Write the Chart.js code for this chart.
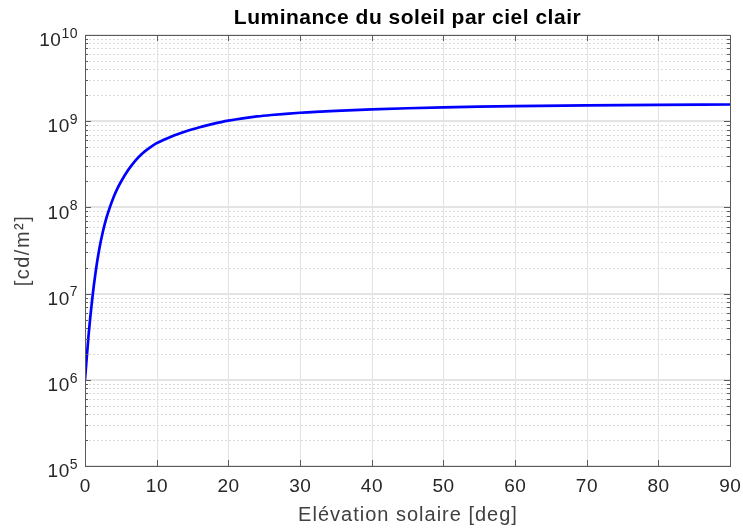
<!DOCTYPE html>
<html><head><meta charset="utf-8">
<script src="https://cdn.jsdelivr.net/npm/chart.js@4"></script>
<style>html,body{margin:0;padding:0;background:#fff;}canvas{display:block;}</style>
</head><body>
<canvas id="c" width="743" height="531"></canvas>
<script>
const elevation = [0, 0.5, 1, 1.5, 2, 2.5, 3, 3.5, 4, 4.5, 5, 6, 7, 8, 9, 10, 11, 12, 13, 14, 15, 16, 17, 18, 19, 20, 22, 24, 26, 28, 30, 35, 40, 45, 50, 55, 60, 70, 80, 90];
const luminance = [1.0e6, 3.31e6, 8.51e6, 1.82e7, 3.31e7, 5.25e7, 7.59e7, 1.02e8, 1.32e8, 1.64e8, 1.97e8, 2.69e8, 3.47e8, 4.22e8, 4.90e8, 5.56e8, 6.10e8, 6.61e8, 7.11e8, 7.59e8, 8.05e8, 8.51e8, 8.95e8, 9.38e8, 9.77e8, 1.014e9, 1.079e9, 1.135e9, 1.180e9, 1.219e9, 1.253e9, 1.318e9, 1.371e9, 1.413e9, 1.449e9, 1.476e9, 1.496e9, 1.528e9, 1.549e9, 1.563e9];
const xTicks = [0, 10, 20, 30, 40, 50, 60, 70, 80, 90];
const yExponents = [5, 6, 7, 8, 9, 10];
const titleText = 'Luminance du soleil par ciel clair';
const xLabel = 'Elévation solaire [deg]';
const yLabel = '[cd/m²]';

const FONT = '"Liberation Sans", Arial, Helvetica, sans-serif';

const deco = {
  id: 'deco',
  beforeDraw(chart) {
    const c = chart.ctx;
    c.save(); c.fillStyle = '#fff'; c.fillRect(0, 0, chart.width, chart.height); c.restore();
  },
  beforeDatasetsDraw(chart) {
    const c = chart.ctx, a = chart.chartArea, xs = chart.scales.x, ys = chart.scales.y;
    c.save();
    c.strokeStyle = '#dadada'; c.lineWidth = 1; c.setLineDash([2, 2]);
    for (let i = 0; i < yExponents.length - 1; i++) {
      for (let m = 2; m <= 9; m++) {
        const y = Math.round(ys.getPixelForValue(m * Math.pow(10, yExponents[i]))) + 0.5;
        c.beginPath(); c.moveTo(a.left, y); c.lineTo(a.right, y); c.stroke();
      }
    }
    c.setLineDash([]);
    c.strokeStyle = '#e2e2e2'; c.lineWidth = 1;
    xTicks.forEach(t => {
      const x = Math.round(xs.getPixelForValue(t)) + 0.5;
      c.beginPath(); c.moveTo(x, a.top); c.lineTo(x, a.bottom); c.stroke();
    });
    c.strokeStyle = '#e4e4e4'; c.lineWidth = 2;
    yExponents.forEach(e => {
      const y = Math.round(ys.getPixelForValue(Math.pow(10, e)));
      c.beginPath(); c.moveTo(a.left, y); c.lineTo(a.right, y); c.stroke();
    });
    c.restore();
  },
  afterDatasetsDraw(chart) {
    const c = chart.ctx, a = chart.chartArea, xs = chart.scales.x, ys = chart.scales.y;
    c.save();
    c.strokeStyle = '#5a5a5a'; c.lineWidth = 1;
    c.strokeRect(Math.round(a.left) + 0.5, Math.round(a.top) + 0.5, Math.round(a.right - a.left), Math.round(a.bottom - a.top));
    xTicks.forEach(t => {
      const x = Math.round(xs.getPixelForValue(t)) + 0.5;
      c.beginPath(); c.moveTo(x, a.bottom); c.lineTo(x, a.bottom - 6); c.stroke();
      c.beginPath(); c.moveTo(x, a.top); c.lineTo(x, a.top + 6); c.stroke();
    });
    for (let i = 0; i < yExponents.length; i++) {
      const yM = Math.round(ys.getPixelForValue(Math.pow(10, yExponents[i]))) + 0.5;
      c.beginPath(); c.moveTo(a.left, yM); c.lineTo(a.left + 6, yM); c.stroke();
      c.beginPath(); c.moveTo(a.right, yM); c.lineTo(a.right - 6, yM); c.stroke();
      if (i < yExponents.length - 1) {
        for (let m = 2; m <= 9; m++) {
          const y = Math.round(ys.getPixelForValue(m * Math.pow(10, yExponents[i]))) + 0.5;
          c.beginPath(); c.moveTo(a.left, y); c.lineTo(a.left + 3, y); c.stroke();
          c.beginPath(); c.moveTo(a.right, y); c.lineTo(a.right - 3, y); c.stroke();
        }
      }
    }
    // x tick labels
    c.fillStyle = '#262626';
    c.font = '19px ' + FONT;
    c.letterSpacing = '0.5px';
    c.textAlign = 'center'; c.textBaseline = 'middle';
    xTicks.forEach(t => {
      c.fillText(String(t), xs.getPixelForValue(t) + 0.25, a.bottom + 21);
    });
    // y tick labels 10^n
    yExponents.forEach(e => {
      const y = ys.getPixelForValue(Math.pow(10, e));
      const ex = String(e);
      c.letterSpacing = '0.5px';
      c.font = '14px ' + FONT;
      const ew = c.measureText(ex).width;
      const right = a.left - 7;
      c.textAlign = 'left'; c.textBaseline = 'middle';
      c.fillText(ex, right - ew, y - 1);
      c.font = '19px ' + FONT;
      c.textAlign = 'right';
      c.fillText('10', right - ew, y + 6);
    });
    // x label
    c.fillStyle = '#404040';
    c.font = '20px ' + FONT;
    c.letterSpacing = '1px';
    c.textAlign = 'center'; c.textBaseline = 'middle';
    c.fillText(xLabel, (a.left + a.right) / 2 + 0.5, a.bottom + 49);
    // y label
    c.save();
    c.letterSpacing = '1.5px';
    c.translate(23, (a.top + a.bottom) / 2);
    c.rotate(-Math.PI / 2);
    c.fillText(yLabel, 0, 0);
    c.restore();
    // title
    c.fillStyle = '#000';
    c.font = 'bold 21px ' + FONT;
    c.letterSpacing = '0.5px';
    c.fillText(titleText, (a.left + a.right) / 2, 18);
    c.restore();
  }
};

new Chart(document.getElementById('c'), {
  type: 'line',
  data: {
    datasets: [{
      data: elevation.map((x, i) => ({ x: x, y: luminance[i] })),
      borderColor: '#0000ff',
      borderWidth: 2.7,
      pointRadius: 0,
      fill: false,
      cubicInterpolationMode: 'monotone'
    }]
  },
  options: {
    responsive: false,
    animation: false,
    devicePixelRatio: 1,
    layout: { padding: { left: 85, right: 13, top: 35, bottom: 65 } },
    plugins: { legend: { display: false }, tooltip: { enabled: false }, title: { display: false } },
    scales: {
      x: { type: 'linear', min: 0, max: 90, display: false },
      y: { type: 'logarithmic', min: 1e5, max: 1e10, display: false }
    }
  },
  plugins: [deco]
});
</script>
</body></html>
